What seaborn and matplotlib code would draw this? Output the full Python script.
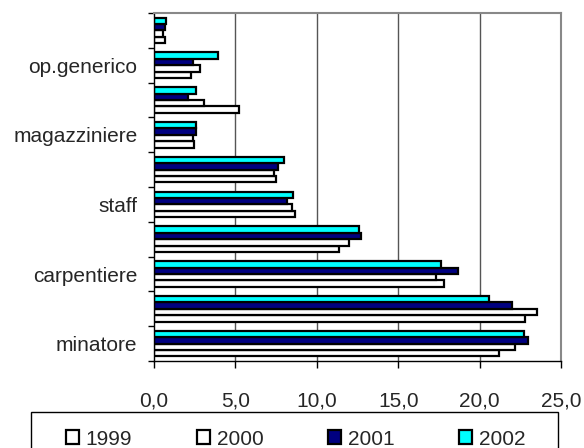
import matplotlib
matplotlib.use("Agg")
import matplotlib.pyplot as plt
from matplotlib.patches import Patch, Rectangle
import seaborn as sns
import pandas as pd
import numpy as np

# ---- data (bottom to top) ----
groups = list(range(10))
tick_labels = ["minatore", "", "carpentiere", "", "staff", "",
               "magazziniere", "", "op.generico", ""]
years = ["1999", "2000", "2001", "2002"]
v1999 = [21.2, 22.8, 17.8, 11.35, 8.65, 7.5, 2.45, 5.2, 2.3, 0.65]
v2000 = [22.2, 23.55, 17.35, 12.0, 8.45, 7.35, 2.4, 3.05, 2.85, 0.55]
v2001 = [23.0, 22.0, 18.7, 12.7, 8.2, 7.6, 2.55, 2.1, 2.4, 0.7]
v2002 = [22.7, 20.55, 17.65, 12.6, 8.55, 8.0, 2.6, 2.6, 3.95, 0.75]
colors = ["#FFFFFF", "#FFFFFF", "#000080", "#00FFFF"]
x_ticks = [0, 5, 10, 15, 20, 25]

rows = []
for yr, vals in zip(years, [v1999, v2000, v2001, v2002]):
    for g, v in zip(groups, vals):
        rows.append({"group": g, "year": yr, "value": v})
df = pd.DataFrame(rows)

sns.set_style("white")
plt.rcParams["font.family"] = ["Liberation Sans", "DejaVu Sans"]
FS = 15
plt.rcParams["font.size"] = FS

fig = plt.figure(figsize=(5.84, 4.48), dpi=100)
ax = fig.add_axes([154 / 584, 1 - 361 / 448, (561 - 154) / 584, (361 - 13) / 448])

sns.barplot(data=df, x="value", y="group", hue="year", orient="h",
            order=groups, hue_order=years, palette=colors,
            edgecolor="black", linewidth=1.6, width=0.74, saturation=1,
            legend=False, ax=ax)
ax.invert_yaxis()
ax.set_ylim(-0.5, 9.5)
ax.set_xlim(0, 25)

# grid
ax.set_axisbelow(True)
for xv in x_ticks[1:-1]:
    ax.axvline(xv, color="#555555", linewidth=1.0, zorder=0)

# spines
for s in ["top", "right"]:
    ax.spines[s].set_visible(True)
    ax.spines[s].set_color("#888888")
    ax.spines[s].set_linewidth(1.5)
for s in ["left", "bottom"]:
    ax.spines[s].set_visible(True)
    ax.spines[s].set_color("black")
    ax.spines[s].set_linewidth(1.0)

# x ticks
ax.set_xticks(x_ticks)
ax.set_xticklabels([f"{t:.1f}".replace(".", ",") for t in x_ticks])
ax.tick_params(axis="x", direction="out", length=5, width=1, color="black",
               pad=17, labelsize=FS, bottom=True)

# y ticks: marks at boundaries, labels at centres
ax.set_yticks(np.arange(-0.5, 10, 1.0))
ax.set_yticklabels([])
ax.tick_params(axis="y", which="major", direction="out", length=4.3,
               width=1, color="black", left=True)
ax.set_yticks(groups, minor=True)
ax.set_yticklabels(tick_labels, minor=True)
ax.tick_params(axis="y", which="minor", length=0, pad=12, labelsize=FS)

ax.set_xlabel("")
ax.set_ylabel("")

# legend box (extends past the bottom edge, as in the reference)
box_top = 1 - 412 / 448
fig.patches.append(Rectangle((31 / 584, -0.05), 527 / 584, box_top + 0.05,
                             transform=fig.transFigure, facecolor="white",
                             edgecolor="black", linewidth=1.0, zorder=1))

handles = [Patch(facecolor=c, edgecolor="black", linewidth=1.6) for c in colors]
leg = fig.legend(handles, years, loc="center",
                 bbox_to_anchor=((65 + 526) / 2 / 584, 1 - 439 / 448),
                 ncol=4, frameon=False, handlelength=0.65,
                 handleheight=0.65, handletextpad=0.3, columnspacing=3.1,
                 borderpad=0, borderaxespad=0, fontsize=FS)
leg.set_zorder(2)

fig.savefig("out.png", dpi=100)
